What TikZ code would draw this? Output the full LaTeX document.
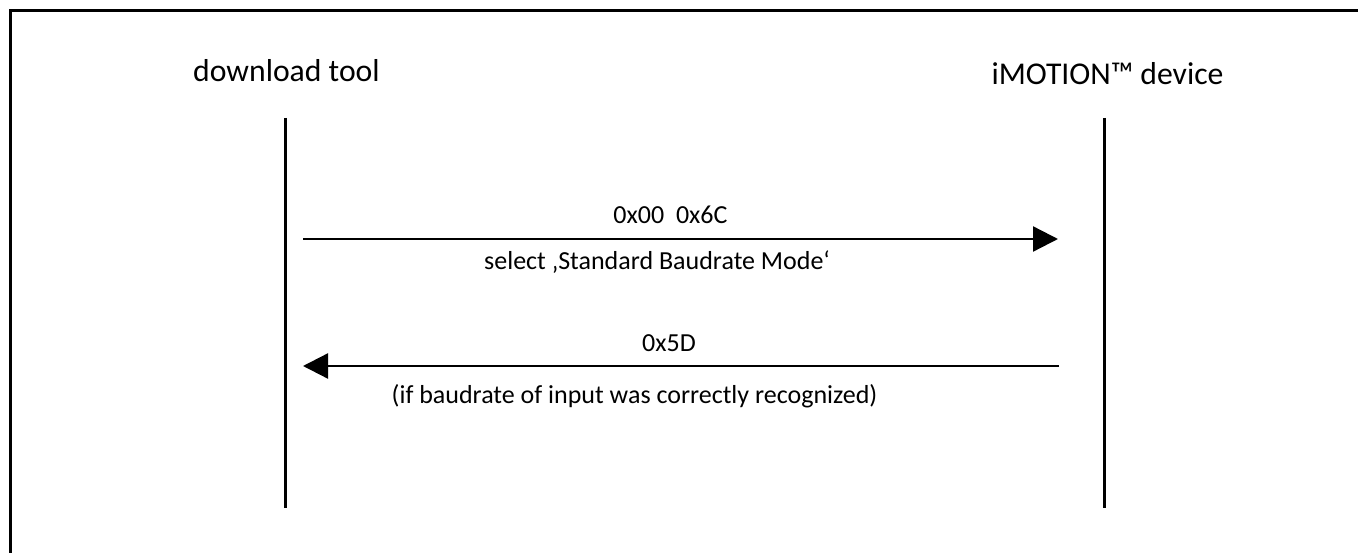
\documentclass[tikz,border=0pt]{standalone}
\usepackage{fontspec}
\setmainfont{Carlito}
\usetikzlibrary{arrows.meta}

\begin{document}
\begin{tikzpicture}[x=1pt,y=-1pt,
  frameline/.style={line width=3pt},
  lifeline/.style={line width=3pt},
  msg/.style={line width=2.3pt,-{Triangle[length=25pt,width=25pt]}},
  party/.style={anchor=base,inner sep=0pt,font=\fontsize{31.7}{38}\selectfont},
  msgtext/.style={anchor=base,inner sep=0pt,font=\fontsize{26}{31}\selectfont}]
  \useasboundingbox (0,0) rectangle (1358,553);

  % outer frame (open towards the right and bottom)
  \draw[frameline] (10.5,553) -- (10.5,11) -- (1358,11);

  % participants
  \node[party] (tool) at (286.5,82) {download tool};
  \node[party] (dev) at (1107.5,85) {iMOTION™ device};

  % lifelines
  \coordinate (toolTop) at (285,118);
  \coordinate (toolBot) at (285,508);
  \coordinate (devTop) at (1104,118);
  \coordinate (devBot) at (1104,508);
  \draw[lifeline] (toolTop) -- (toolBot);
  \draw[lifeline] (devTop) -- (devBot);

  % request message
  \coordinate (reqStart) at (303,239);
  \coordinate (reqEnd) at (1058,239);
  \draw[msg] (reqStart) -- (reqEnd);
  \node[msgtext] (reqCode) at (670.5,224) {0x00\ \ 0x6C};
  \node[msgtext] (reqNote) at (657,270) {select ‚Standard Baudrate Mode‘};

  % answer message
  \coordinate (ansStart) at (1059,366);
  \coordinate (ansEnd) at (303,366);
  \draw[msg] (ansStart) -- (ansEnd);
  \node[msgtext] (ansCode) at (669,352) {0x5D};
  \node[msgtext] (ansNote) at (634.5,403) {(if baudrate of input was correctly recognized)};
\end{tikzpicture}
\end{document}
